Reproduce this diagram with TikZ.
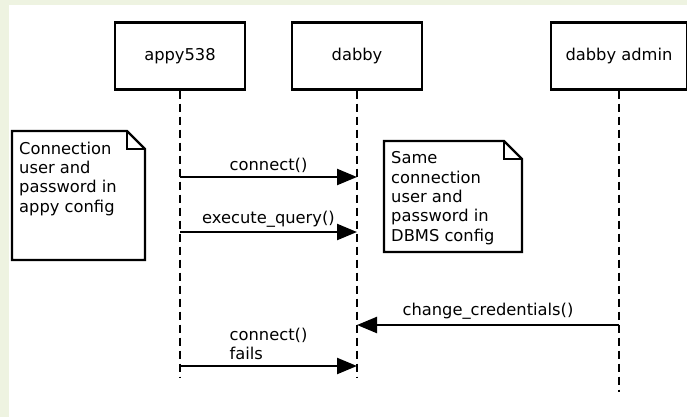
\documentclass[tikz,border=0pt]{standalone}
\usepackage{fontspec}
\setmainfont{DejaVu Sans}
\usetikzlibrary{positioning,arrows.meta}
\definecolor{pagegreen}{HTML}{EEF3E1}

\tikzset{
  head/.style={draw,line width=2.3pt,minimum width=130pt,minimum height=67pt},
  life/.style={line width=2.3pt,dash pattern=on 8pt off 5pt},
  msg/.style={line width=2.3pt,-{Triangle[length=20pt,width=16pt]}},
  notebox/.style={line width=2.3pt,line join=miter},
  notetext/.style={anchor=north west,align=left,inner xsep=7pt,inner ysep=10.5pt}
}

\begin{document}
\begin{tikzpicture}[x=1pt,y=-1pt,node distance=177pt,on grid,font=\fontsize{16.3}{19.4}\selectfont]
        \fill[pagegreen] (0,0) rectangle (687,417);
        \fill[white] (9,5) rectangle (687,417);
        \useasboundingbox (0,0) rectangle (687,417);
        % lifeline heads
        \node[head] (appy) at (180,56) {appy538};
        \node[head] (dabby) [right = of appy] {dabby};
        \node[head,minimum width=136pt] (admin) [right = 262pt of dabby] {dabby admin};
        \coordinate (appyend) at (appy |- 0,377);
        \coordinate (dabbyend) at (dabby |- 0,377);
        \coordinate (adminend) at (admin |- 0,392);
        \draw[life] (appy) -- (appyend);
        \draw[life] (dabby) -- (dabbyend);
        \draw[life] (admin) -- (adminend);
        % notes
        \coordinate (n1) at (12,131);
        \draw[notebox] (n1) -- ++(115,0) -- ++(18,18) -- ++(0,111) -- ++(-133,0) -- cycle;
        \draw[notebox] (n1) ++(115,0) -- ++(0,18) -- ++(18,0);
        \node[notetext] (appynote) at (n1) {Connection\\user and\\password in\\appy config};
        \coordinate (n2) at (384,141);
        \draw[notebox] (n2) -- ++(120,0) -- ++(18,18) -- ++(0,93) -- ++(-138,0) -- cycle;
        \draw[notebox] (n2) ++(120,0) -- ++(0,18) -- ++(18,0);
        \node[notetext] (dabbynote) at (n2) {Same\\connection\\user and\\password in\\DBMS config};
        % messages
        \coordinate (a1) at (appy |- 0,177);
        \coordinate (d1) at (dabby |- 0,177);
        \coordinate (a2) at (appy |- 0,232);
        \coordinate (d2) at (dabby |- 0,232);
        \coordinate (m3) at (admin |- 0,325);
        \coordinate (d3) at (dabby |- 0,325);
        \coordinate (a4) at (appy |- 0,366);
        \coordinate (d4) at (dabby |- 0,366);
        \path[msg]
        (a1)
        edge [] node [above] {connect()} (d1)
        (a2)
        edge [] node [above] {execute\_query()} (d2)
        (m3)
        edge [] node [above,inner sep=5pt] {change\_credentials()} (d3)
        (a4)
        edge [] node [above,align=left,inner sep=5pt] {connect()\\fails} (d4)
        ;
\end{tikzpicture}
\end{document}
